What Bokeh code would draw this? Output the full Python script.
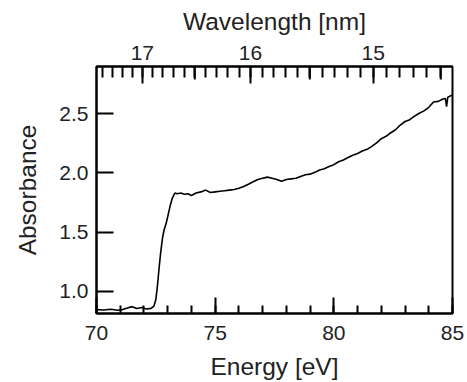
from bokeh.plotting import figure
from bokeh.models import (Range1d, LinearAxis, FixedTicker, SingleIntervalTicker,
                          PrintfTickFormatter, CustomJSTickFormatter)
from bokeh.embed import file_html
from bokeh.resources import INLINE

# ---- data ----
energy = [70.0, 70.3, 70.6, 70.9, 71.1, 71.3, 71.5, 71.7, 71.9, 72.1, 72.3, 72.42,
          72.5, 72.56, 72.63, 72.70, 72.78, 72.85, 72.93, 73.0, 73.1, 73.2, 73.3,
          73.4, 73.55, 73.7, 73.85, 74.0, 74.2, 74.4, 74.6, 74.8, 75.0, 75.2, 75.4,
          75.6, 75.8, 76.0, 76.2, 76.4, 76.6, 76.8, 77.0, 77.2, 77.4, 77.6, 77.8,
          78.0, 78.2, 78.4, 78.6, 78.8, 79.0, 79.2, 79.4, 79.6, 79.8, 80.0, 80.2,
          80.4, 80.6, 80.8, 81.0, 81.2, 81.4, 81.6, 81.8, 82.0, 82.2, 82.4, 82.6,
          82.8, 83.0, 83.2, 83.4, 83.6, 83.8, 84.0, 84.2, 84.4, 84.6, 84.7, 84.75,
          84.8, 85.0]
absorbance = [0.845, 0.842, 0.848, 0.840, 0.845, 0.858, 0.870, 0.855, 0.862, 0.850,
              0.855, 0.875, 0.93, 1.03, 1.18, 1.32, 1.45, 1.52, 1.57, 1.63, 1.72,
              1.79, 1.83, 1.825, 1.83, 1.82, 1.825, 1.81, 1.83, 1.84, 1.855, 1.835,
              1.84, 1.845, 1.85, 1.855, 1.86, 1.87, 1.885, 1.905, 1.925, 1.945,
              1.955, 1.965, 1.955, 1.945, 1.93, 1.945, 1.95, 1.955, 1.97, 1.985,
              1.99, 2.005, 2.025, 2.035, 2.055, 2.07, 2.095, 2.11, 2.13, 2.15,
              2.165, 2.185, 2.2, 2.225, 2.255, 2.29, 2.31, 2.34, 2.365, 2.405,
              2.435, 2.45, 2.48, 2.505, 2.525, 2.555, 2.60, 2.605, 2.625, 2.63,
              2.56, 2.64, 2.66]

wl_major = [17, 16, 15]                 # labelled wavelength ticks [nm]
wl_medium = [16.5, 15.5, 14.5]          # half-nm ticks
wl_minor = [round(17.4 - 0.1 * i, 1) for i in range(30)]  # 17.4 ... 14.5
HC = 1239.84
E_OFFSET = 1.0   # top-axis positions as drawn in the reference

def wl_to_x(wl):
    return HC / wl - E_OFFSET

X0, X1 = 70, 85
Y0, Y1 = 0.812, 2.90
FONT = "Liberation Sans"
TXT = "#222222"

p = figure(width=467, height=382, output_backend="svg", toolbar_location=None,
           x_range=Range1d(X0, X1), y_range=Range1d(Y0, Y1),
           min_border_left=96, min_border_right=15, min_border_top=66,
           min_border_bottom=69, x_axis_location="below")
p.grid.visible = False
p.outline_line_color = "black"
p.outline_line_width = 2
p.background_fill_color = "white"
p.border_fill_color = "white"

p.line(energy, absorbance, line_color="black", line_width=1.6)

# bottom axis
xa = p.xaxis[0]
xa.ticker = SingleIntervalTicker(interval=5, num_minor_ticks=5)
xa.axis_label = "Energy [eV]"
# left axis
ya = p.yaxis[0]
ya.ticker = SingleIntervalTicker(interval=0.5, num_minor_ticks=0)
ya.formatter = PrintfTickFormatter(format="%.1f")
ya.axis_label = "Absorbance"

# top axis (wavelength)
top = LinearAxis(
    ticker=FixedTicker(ticks=[wl_to_x(w) for w in wl_major],
                       minor_ticks=[wl_to_x(w) for w in wl_minor]),
    formatter=CustomJSTickFormatter(code="return (1239.84/(tick+1.0)).toFixed(0);"),
    axis_label="Wavelength [nm]")
p.add_layout(top, "above")

for ax in (xa, ya, top):
    ax.axis_line_width = 2
    ax.axis_line_color = "black"
    ax.major_tick_line_width = 2
    ax.minor_tick_line_width = 2
    ax.major_tick_out = 0
    ax.minor_tick_out = 0
    ax.major_label_text_font = FONT
    ax.major_label_text_font_size = "21px"
    ax.major_label_text_color = TXT
    ax.axis_label_text_font = FONT
    ax.axis_label_text_font_size = "24.5px"
    ax.axis_label_text_font_style = "normal"
    ax.axis_label_text_color = TXT

xa.major_tick_in = 16
xa.minor_tick_in = 8
xa.major_label_standoff = 12
xa.axis_label_standoff = 10
ya.major_tick_in = 17
ya.minor_tick_in = 0
ya.major_label_standoff = 8
ya.axis_label_standoff = 15
top.major_tick_in = 17
top.minor_tick_in = 11
top.major_label_standoff = 7
top.axis_label_standoff = 8

# half-nm ticks (slightly longer than minor ones)
px_per_unit = 247.0 / (Y1 - Y0)
med_len = 13.0 / px_per_unit
mx = [wl_to_x(w) for w in wl_medium]
p.segment(x0=mx, x1=mx, y0=[Y1] * len(mx), y1=[Y1 - med_len] * len(mx),
          line_color="black", line_width=2)

open("out.html", "w").write(file_html(p, INLINE))
